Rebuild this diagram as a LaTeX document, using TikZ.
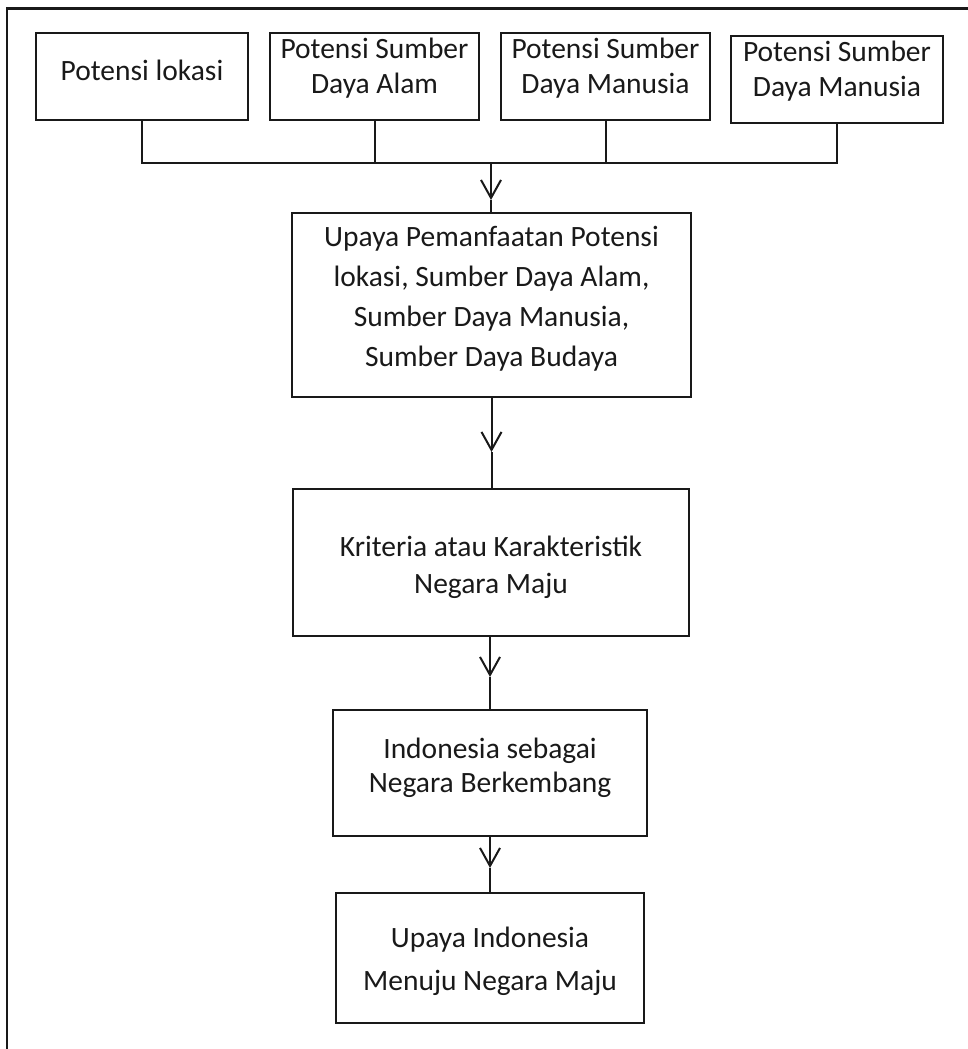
\documentclass[tikz,border=0pt]{standalone}
\usepackage{fontspec}
\setmainfont{Carlito}
\usetikzlibrary{arrows.meta}
\tikzset{
  box/.style={draw=black!90, line width=2pt, rectangle, inner sep=0pt},
  lbl/.style={align=center, inner sep=0pt, text=black!90, font=\fontsize{29.5}{35}\selectfont},
  conn/.style={draw=black!90, line width=2pt},
  vtip/.style={conn, -{Straight Barb[length=18pt,width=20pt,line width=2pt]}},
}
\begin{document}
\begin{tikzpicture}[x=1pt,y=-1pt]
\useasboundingbox (0,0) rectangle (968,1049);
% frame (top and left edges)
\coordinate (fa) at (7,1049);
\coordinate (fb) at (7,8.5);
\coordinate (fc) at (968,8.5);
\draw[conn, line width=2.5pt] (fa) -- (fb) -- (fc);
% top boxes
\node[box, minimum width=212pt, minimum height=87pt] (b1) at (142,76.5) {};
\node[box, minimum width=209pt, minimum height=87pt] (b2) at (374.5,76.5) {};
\node[box, minimum width=209pt, minimum height=87pt] (b3) at (605.5,76.5) {};
\node[box, minimum width=212pt, minimum height=87pt] (b4) at (837,79.5) {};
\node[lbl] (t1) at (142,70) {Potensi lokasi};
\node[lbl] (t2) at (374.5,68) {Potensi Sumber\\Daya Alam};
\node[lbl] (t3) at (605.5,68) {Potensi Sumber\\Daya Manusia};
\node[lbl] (t4) at (837,71) {Potensi Sumber\\Daya Manusia};
% main column
\node[box, minimum width=399pt, minimum height=184pt] (b5) at (491.5,305) {};
\node[lbl, font=\fontsize{29.5}{40}\selectfont] (t5) at (491.5,299) {Upaya Pemanfaatan Potensi\\lokasi, Sumber Daya Alam,\\Sumber Daya Manusia,\\Sumber Daya Budaya};
\node[box, minimum width=396pt, minimum height=147pt] (b6) at (491,562.5) {};
\node[lbl, font=\fontsize{29.5}{37}\selectfont] (t6) at (491,567) {Kriteria atau Karakteristik\\Negara Maju};
\node[box, minimum width=314pt, minimum height=126pt] (b7) at (490,773) {};
\node[lbl, font=\fontsize{29.5}{34}\selectfont] (t7) at (490,768) {Indonesia sebagai\\Negara Berkembang};
\node[box, minimum width=308pt, minimum height=130pt] (b8) at (490,958) {};
\node[lbl, font=\fontsize{29.5}{43}\selectfont] (t8) at (490,961) {Upaya Indonesia\\Menuju Negara Maju};
% collector bus
\coordinate (j1) at (b1.south |- 0,163);
\coordinate (j4) at (b4.south |- 0,163);
\coordinate (jm) at (491,163);
\coordinate (a1) at (491,200);
\draw[conn] (b1.south) -- (j1) -- (j4) -- (b4.south);
\draw[conn] (b2.south) -- (b2.south |- j1);
\draw[conn] (b3.south) -- (b3.south |- j1);
\draw[vtip] (jm) -- (a1);
\draw[conn] (a1) -- (a1 |- b5.north);
% arrows between main boxes
\coordinate (a2) at (491.5,452);
\draw[vtip] (b5.south) -- (a2);
\draw[conn] (a2) -- (a2 |- b6.north);
\coordinate (a3) at (490,677);
\draw[vtip] (a3 |- b6.south) -- (a3);
\draw[conn] (a3) -- (a3 |- b7.north);
\coordinate (a4) at (490,868);
\draw[vtip] (b7.south) -- (a4);
\draw[conn] (a4) -- (a4 |- b8.north);
\end{tikzpicture}
\end{document}
